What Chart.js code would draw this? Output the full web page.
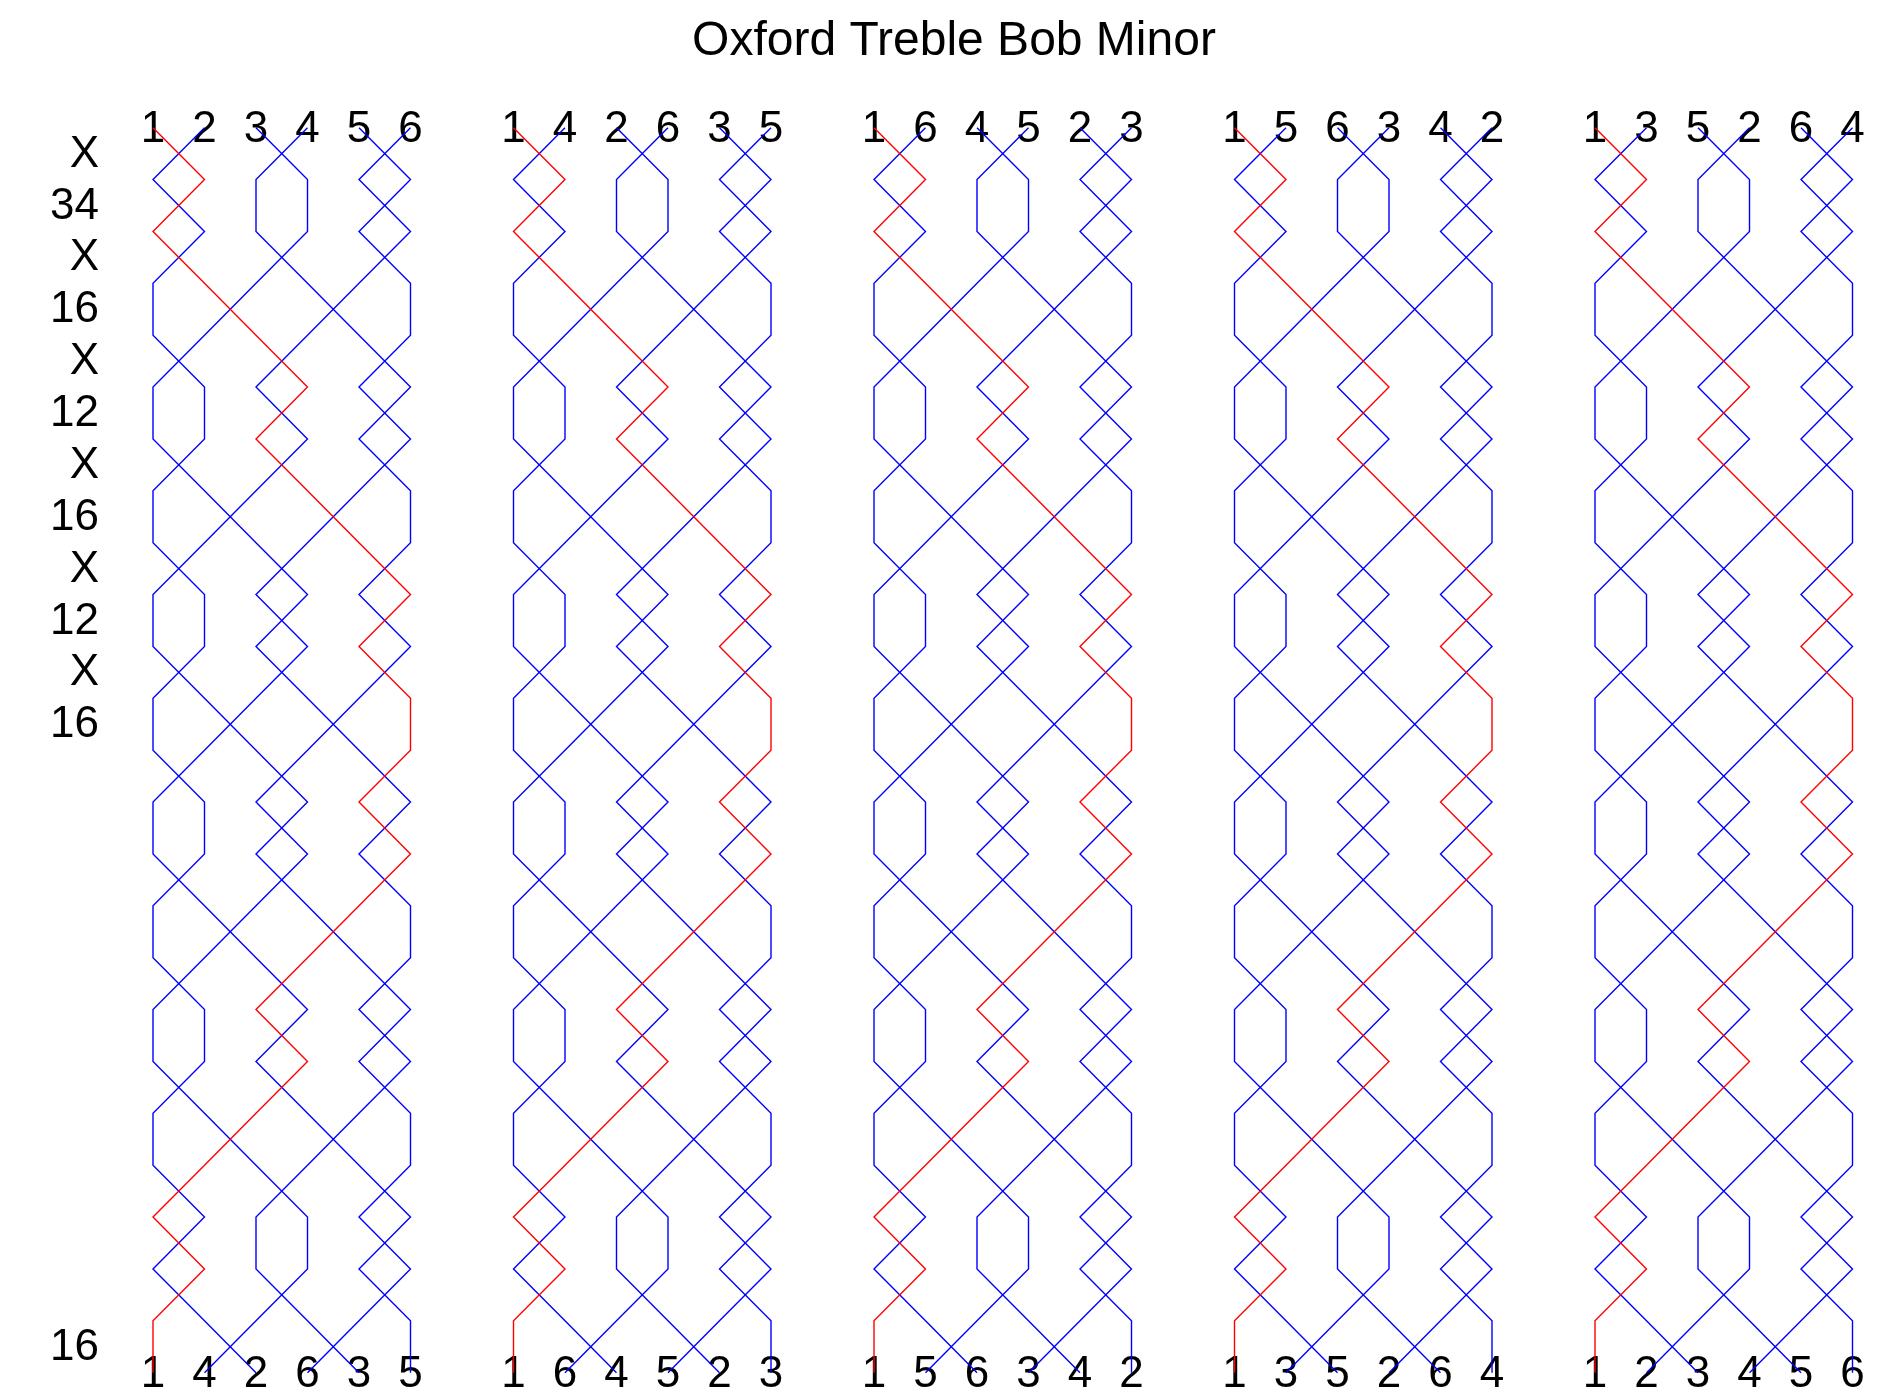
<!DOCTYPE html>
<html>
<head>
<meta charset="utf-8">
<title>Oxford Treble Bob Minor</title>
<script src="https://cdn.jsdelivr.net/npm/chart.js@4.4.1/dist/chart.umd.min.js"></script>
<style>
  html, body { margin: 0; padding: 0; background: #fff; }
  #wrap { width: 1896px; height: 1387px; }
</style>
</head>
<body>
<div id="wrap"><canvas id="methodChart" width="1896" height="1387"></canvas></div>
<script>
// Method data
const methodTitle = 'Oxford Treble Bob Minor';
const startRow = [1, 2, 3, 4, 5, 6];
// place notation for one lead (24 changes), 'x' = all change
const changes = ['x', '34', 'x', '16', 'x', '12', 'x', '16', 'x', '12', 'x', '16',
                 'x', '12', 'x', '16', 'x', '12', 'x', '16', 'x', '34', 'x', '16'];
// changes that get a label on the left
const labelledChanges = [0, 1, 2, 3, 4, 5, 6, 7, 8, 9, 10, 11, 23];
const leadCount = 5;
const leadGap = 7;          // columns from one lead to the next
const trebleBell = 1;

const FONT = "'Liberation Sans', Arial, Helvetica, sans-serif";

// ring the changes: returns array of rows (each row = list of bells by place)
function applyChange(row, pn) {
    const next = row.slice();
    const places = pn === 'x' ? [] : pn.split('').map(Number);
    let p = 1;
    while (p < row.length) {
        if (places.includes(p)) { p += 1; continue; }
        next[p - 1] = row[p];
        next[p] = row[p - 1];
        p += 2;
    }
    return next;
}

const leads = [];
let current = startRow.slice();
for (let l = 0; l < leadCount; l++) {
    const rows = [current];
    changes.forEach(pn => rows.push(applyChange(rows[rows.length - 1], pn)));
    leads.push(rows);
    current = rows[rows.length - 1];
}

// one dataset per bell per lead
const datasets = [];
leads.forEach((rows, l) => {
    startRow.forEach(bell => {
        const pts = rows.map((row, r) => ({ x: l * leadGap + row.indexOf(bell) + 1, y: r }));
        const isTreble = bell === trebleBell;
        datasets.push({
            data: pts,
            showLine: true,
            borderColor: isTreble ? '#ff0000' : '#0000ff',
            borderWidth: 1.4,
            pointRadius: 0,
            pointHoverRadius: 0,
            tension: 0,
            fill: false,
            clip: false,
            order: isTreble ? 0 : 1
        });
    });
});

// text: title, bell numbers top/bottom, place notation on the left
const textPlugin = {
    id: 'methodText',
    beforeDatasetsDraw(chart) {
        const ctx = chart.ctx;
        const xs = chart.scales.x;
        const ys = chart.scales.y;
        ctx.save();
        ctx.fillStyle = '#000';

        ctx.font = '48px ' + FONT;
        ctx.textAlign = 'center';
        ctx.textBaseline = 'alphabetic';
        ctx.fillText(methodTitle, 954, 55);

        ctx.font = '44px ' + FONT;
        const rowsPerLead = changes.length;
        leads.forEach((rows, l) => {
            [0, rowsPerLead].forEach(r => {
                rows[r].forEach((bell, i) => {
                    const px = xs.getPixelForValue(l * leadGap + i + 1);
                    const py = ys.getPixelForValue(r);
                    ctx.fillText(String(bell), px, py + 14.5);
                });
            });
        });

        ctx.textAlign = 'right';
        labelledChanges.forEach(k => {
            const pn = changes[k];
            const py = ys.getPixelForValue(k + 0.5);
            ctx.fillText(pn === 'x' ? 'X' : pn, 99, py + 13);
        });
        ctx.restore();
    }
};

const ctx = document.getElementById('methodChart').getContext('2d');
new Chart(ctx, {
    type: 'scatter',
    data: { datasets: datasets },
    options: {
        responsive: false,
        animation: false,
        devicePixelRatio: 1,
        layout: {
            padding: { left: 153, right: 43.5, top: 127.7, bottom: 14.3 }
        },
        scales: {
            x: { type: 'linear', min: 1, max: 1 + (leadCount - 1) * leadGap + 5, display: false },
            y: { type: 'linear', min: 0, max: changes.length, reverse: true, display: false }
        },
        plugins: {
            legend: { display: false },
            title: { display: false },
            tooltip: { enabled: false }
        },
        events: []
    },
    plugins: [textPlugin]
});
</script>
</body>
</html>
